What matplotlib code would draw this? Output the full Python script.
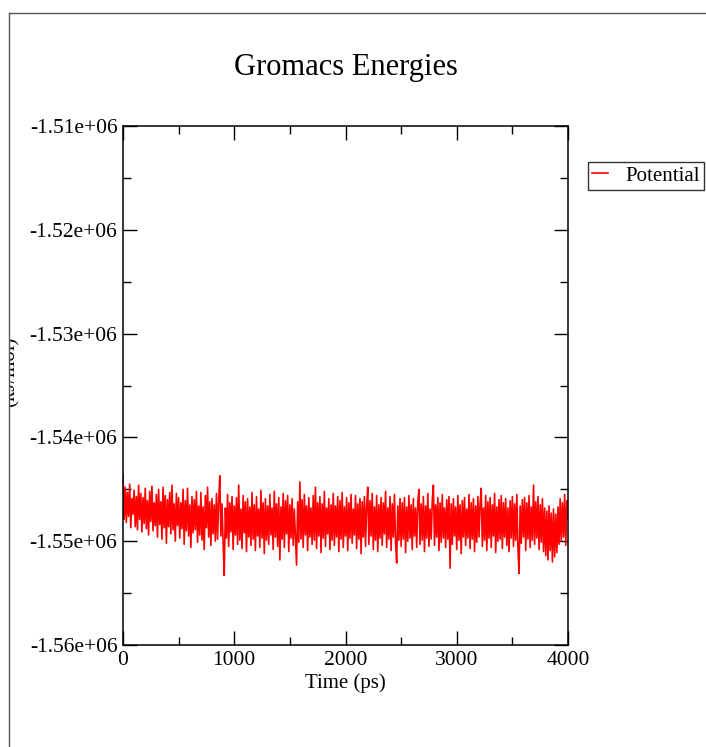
import numpy as np
import matplotlib.pyplot as plt
from matplotlib.lines import Line2D
from matplotlib.patches import Rectangle
from matplotlib.ticker import MultipleLocator

# Potential energy (kJ/mol), one value every 10 ps
potential = [
    -1543600, -1547900, -1544800, -1548200, -1545300, -1547600, -1544500, -1548700, -1545900, -1547400,
    -1545100, -1548600, -1545700, -1548900, -1544600, -1547900, -1545400, -1549100, -1545800, -1548300,
    -1544900, -1548800, -1546100, -1549400, -1545200, -1548100, -1544700, -1549000, -1546300, -1548500,
    -1545500, -1549600, -1545000, -1548400, -1546200, -1549800, -1544800, -1548700, -1545600, -1550200,
    -1546000, -1548600, -1545300, -1549300, -1544600, -1548900, -1546400, -1550000, -1545400, -1548500,
    -1545800, -1549700, -1546300, -1548800, -1545000, -1550300, -1546100, -1549000, -1544900, -1549500,
    -1546500, -1550600, -1545700, -1549200, -1546000, -1548900, -1545200, -1550100, -1546600, -1549400,
    -1545300, -1549900, -1546700, -1550800, -1545600, -1548700, -1544800, -1549600, -1546200, -1550400,
    -1545900, -1549300, -1546500, -1550000, -1545400, -1549800, -1546100, -1543700, -1549500, -1546400,
    -1550200, -1553300, -1546800, -1549700, -1545500, -1550500, -1546300, -1549100, -1545700, -1550800,
    -1546600, -1549400, -1545800, -1550300, -1544600, -1549900, -1546900, -1550700, -1545600, -1549200,
    -1546200, -1551000, -1545900, -1549600, -1546700, -1550400, -1545300, -1549800, -1546500, -1550900,
    -1545700, -1549500, -1546900, -1550600, -1545100, -1549700, -1546300, -1551200, -1545900, -1549900,
    -1546600, -1550300, -1545500, -1549400, -1546800, -1550800, -1545200, -1549600, -1546400, -1550500,
    -1545800, -1551800, -1546700, -1549800, -1545400, -1550600, -1546100, -1549300, -1545600, -1551000,
    -1546500, -1549700, -1545900, -1550400, -1546900, -1549500, -1552300, -1546200, -1550100, -1544300,
    -1549800, -1546000, -1550600, -1545500, -1549400, -1546600, -1550900, -1545800, -1549600, -1546800,
    -1550300, -1545600, -1549900, -1544800, -1550700, -1546300, -1549500, -1545700, -1551100, -1546400,
    -1549700, -1545200, -1550500, -1546800, -1549300, -1545900, -1550800, -1546500, -1549900, -1545400,
    -1550400, -1546600, -1549600, -1545700, -1551000, -1546100, -1549800, -1545300, -1550600, -1546700,
    -1549500, -1545800, -1550900, -1546300, -1549700, -1545500, -1550200, -1546900, -1549400, -1545600,
    -1550700, -1546400, -1549800, -1545900, -1551200, -1546200, -1549600, -1545700, -1550500, -1546600,
    -1544800, -1550300, -1546100, -1549500, -1545400, -1550800, -1546700, -1549900, -1545600, -1551000,
    -1546500, -1549700, -1545800, -1550400, -1546300, -1549300, -1545200, -1550600, -1546800, -1549800,
    -1545700, -1550900, -1546400, -1549600, -1545500, -1550200, -1552100, -1546600, -1549900, -1545900,
    -1550500, -1546300, -1549800, -1545800, -1551100, -1546700, -1550000, -1545600, -1549700, -1546500,
    -1550800, -1545900, -1549500, -1546800, -1550600, -1546200, -1545000, -1550300, -1546400, -1549900,
    -1545700, -1551000, -1546600, -1549700, -1545400, -1550500, -1546900, -1549800, -1546100, -1544600,
    -1550400, -1546500, -1549600, -1545800, -1550900, -1546300, -1550100, -1545500, -1549700, -1546800,
    -1550600, -1546000, -1549800, -1545700, -1552600, -1546400, -1550300, -1545900, -1549500, -1546700,
    -1550800, -1545600, -1549900, -1546500, -1551200, -1546100, -1549600, -1545800, -1550400, -1546900,
    -1549700, -1545500, -1550700, -1546300, -1549800, -1545900, -1551000, -1546600, -1550100, -1545700,
    -1549600, -1546400, -1544900, -1550500, -1546800, -1549900, -1545600, -1550900, -1546200, -1549700,
    -1545800, -1550600, -1546500, -1549500, -1545400, -1551100, -1546700, -1550000, -1546000, -1549800,
    -1545600, -1550700, -1546300, -1549600, -1545900, -1550400, -1546800, -1551000, -1546100, -1549700,
    -1545700, -1550500, -1546400, -1549900, -1545500, -1550800, -1553100, -1546600, -1550200, -1546000,
    -1549600, -1545800, -1550900, -1546300, -1549800, -1545600, -1550600, -1546700, -1549900, -1544600,
    -1550300, -1546200, -1549700, -1545700, -1550800, -1546500, -1550100, -1545900, -1551000, -1546800,
    -1551400, -1547100, -1551800, -1546600, -1550900, -1547300, -1552000, -1546900, -1551500, -1547400,
    -1551100, -1546700, -1550300, -1545900, -1550000, -1546300, -1549600, -1545500, -1550400, -1546100,
    -1547800,
]
time_step_ps = 10
time_ps = np.arange(len(potential)) * time_step_ps

x_ticks = [0, 1000, 2000, 3000, 4000]
y_ticks = [-1.56e6, -1.55e6, -1.54e6, -1.53e6, -1.52e6, -1.51e6]
y_tick_labels = ["-1.56e+06", "-1.55e+06", "-1.54e+06", "-1.53e+06", "-1.52e+06", "-1.51e+06"]

W, H = 706, 747
plt.rcParams['font.family'] = ['Liberation Serif', 'DejaVu Serif']

fig = plt.figure(figsize=(W / 100, H / 100), dpi=100)
ax = fig.add_axes([123 / W, 1 - 645 / H, 445 / W, 519 / H])

ax.plot(time_ps, potential, color='#ff0000', lw=1.2, label='Potential')

ax.set_xlim(0, 4000)
ax.set_ylim(-1.56e6, -1.51e6)
ax.set_xticks(x_ticks)
ax.set_xticklabels([str(t) for t in x_ticks])
ax.set_yticks(y_ticks)
ax.set_yticklabels(y_tick_labels)
ax.xaxis.set_minor_locator(MultipleLocator(500))
ax.yaxis.set_minor_locator(MultipleLocator(5000))
ax.tick_params(which='both', direction='in', top=True, right=True, width=1.0, colors='black')
ax.tick_params(which='major', length=10, labelsize=15.5)
ax.tick_params(which='minor', length=5.5)
ax.tick_params(axis='y', pad=4)
ax.tick_params(axis='x', pad=4)
for s in ax.spines.values():
    s.set_linewidth(1.1)

ax.set_xlabel('Time (ps)', fontsize=15, labelpad=3)

fig.text(345.5 / W, 1 - 75 / H, 'Gromacs Energies', fontsize=22, ha='center', va='baseline')

# y label sits partly outside the page frame, as in the original
fig.text(20 / W, 1 - 372 / H, '(kJ/mol)', fontsize=15, rotation=90, ha='right', va='center', zorder=1)
fig.add_artist(Rectangle((0, 0), 8.5 / W, 1, transform=fig.transFigure, color='white', zorder=2))
fig.add_artist(Line2D([8.5 / W, 8.5 / W], [0, 1 - 12.5 / H], transform=fig.transFigure, color='#555555', lw=1.0, zorder=3))
fig.add_artist(Line2D([8.5 / W, 1], [1 - 12.5 / H, 1 - 12.5 / H], transform=fig.transFigure, color='#555555', lw=1.0, zorder=3))

leg = fig.legend(loc='upper left', bbox_to_anchor=(588 / W, 1 - 162 / H), bbox_transform=fig.transFigure,
                 fontsize=15, frameon=True, fancybox=False, edgecolor='black', borderpad=0.2,
                 handlelength=0.75, handletextpad=0.85, borderaxespad=0)
leg.get_frame().set_linewidth(1.0)

fig.savefig('out.png', dpi=100)
